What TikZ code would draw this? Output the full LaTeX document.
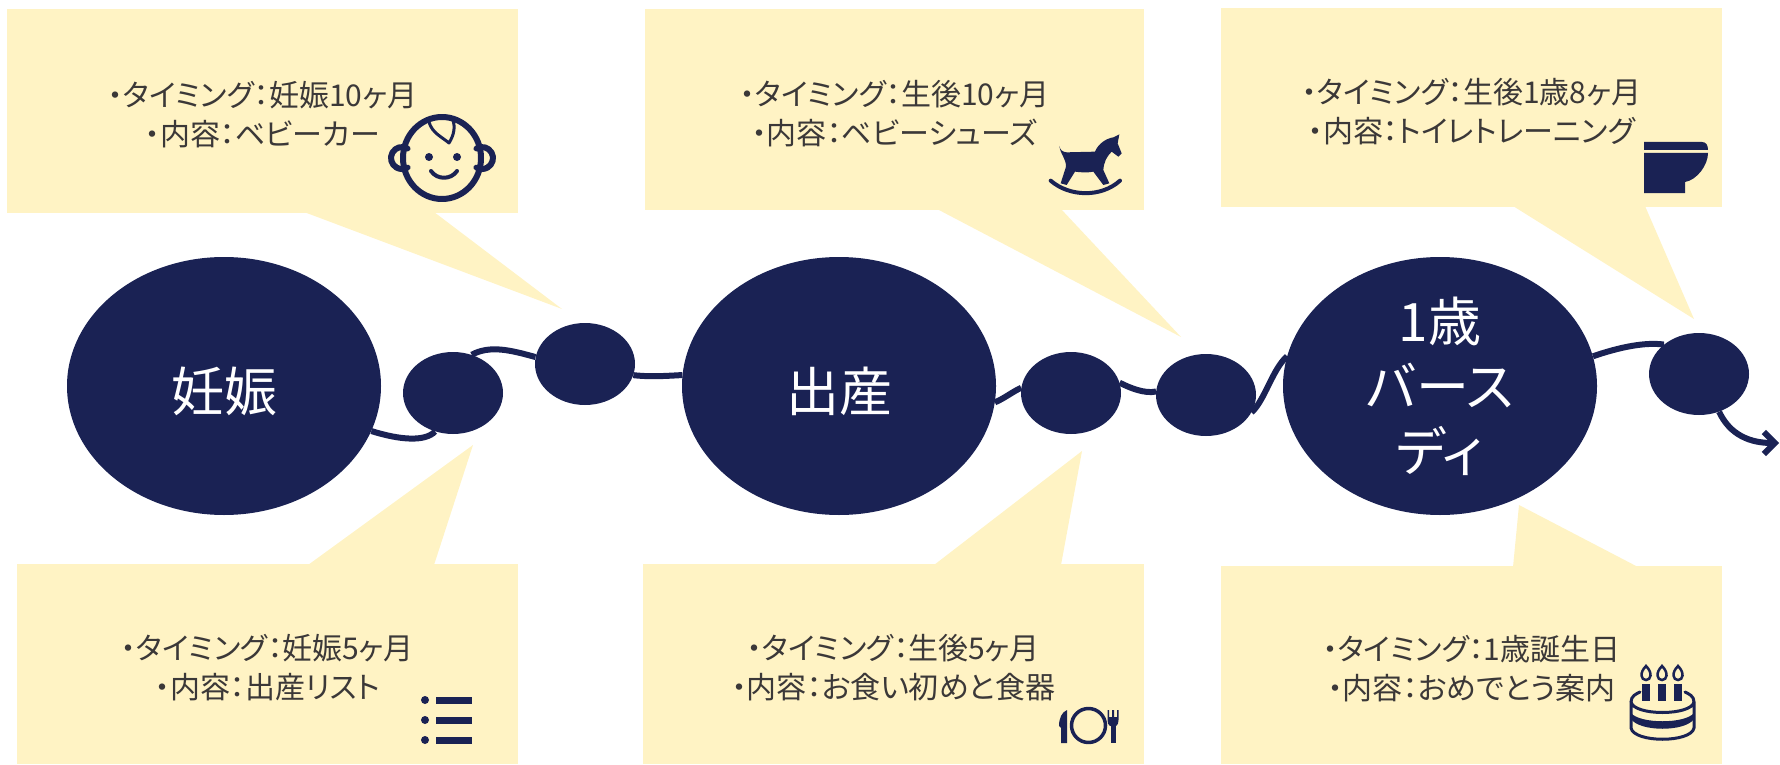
\documentclass[tikz,border=0pt]{standalone}
\usepackage{fontspec}
\setmainfont[RawFeature=+palt]{Noto Sans CJK JP}
\usetikzlibrary{shapes.geometric, arrows.meta}
\definecolor{navy}{HTML}{1A2254}
\definecolor{cream}{HTML}{FFF3C4}
\definecolor{memo}{HTML}{3B3838}
\newcommand{\memolines}[2]{\rule{0pt}{33pt}#1\\#2}
\tikzset{
  memobox/.style={rectangle, fill=cream, text=memo, inner sep=0pt, align=center,
    font=\fontsize{30}{39}\selectfont},
  stage/.style={ellipse, fill=navy, text=white, inner sep=0pt, align=center,
    minimum width=314pt, minimum height=258pt, font=\fontsize{53}{65}\selectfont,
    execute at begin node={\rule{0pt}{55pt}}},
  bead/.style={ellipse, fill=navy, inner sep=0pt, minimum width=100pt, minimum height=82pt},
  route/.style={draw=navy, line width=6pt},
  icon/.style={draw=navy, line width=6pt, line cap=round, line join=round},
  iconfill/.style={fill=navy}
}
\begin{document}
\begin{tikzpicture}[x=1pt,y=-1pt]
\useasboundingbox (0,0) rectangle (1780,765);

% pointers
\fill[cream] (304,212) -- (562,309) -- (434,212) -- cycle;
\fill[cream] (937,209) -- (1181,337) -- (1061,209) -- cycle;
\fill[cream] (1513,206) -- (1694,319) -- (1645,206) -- cycle;
\fill[cream] (308,565) -- (473,445) -- (434,565) -- cycle;
\fill[cream] (934,565) -- (1082,451) -- (1061,565) -- cycle;
\fill[cream] (1513,567) -- (1519,505) -- (1638,567) -- cycle;

% boxes
\node[memobox, minimum width=511pt, minimum height=204pt] (pregten) at (262.5,111) {\memolines{・タイミング：妊娠10ヶ月}{・内容：ベビーカー}};
\node[memobox, minimum width=499pt, minimum height=201pt] (birthten) at (894.5,109.5) {\memolines{・タイミング：生後10ヶ月}{・内容：ベビーシューズ}};
\node[memobox, minimum width=501pt, minimum height=199pt] (yeareight) at (1471.5,107.5) {\memolines{・タイミング：生後1歳8ヶ月}{・内容：トイレトレーニング}};
\node[memobox, minimum width=501pt, minimum height=200pt] (pregfive) at (267.5,664) {\memolines{・タイミング：妊娠5ヶ月}{・内容：出産リスト}};
\node[memobox, minimum width=501pt, minimum height=200pt] (birthfive) at (893.5,664) {\memolines{・タイミング：生後5ヶ月}{・内容：お食い初めと食器}};
\node[memobox, minimum width=501pt, minimum height=198pt] (yearone) at (1471.5,665) {\memolines{・タイミング：1歳誕生日}{・内容：おめでとう案内}};

% timeline
\node[stage] (preg) at (224,386) {妊娠};
\node[stage] (birth) at (839,386) {出産};
\node[stage] (party) at (1440,386) {1歳\\バース\\ディ};
\node[bead] (beada) at (453,393) {};
\node[bead] (beadb) at (585,364) {};
\node[bead] (beadc) at (1071,393) {};
\node[bead] (beadd) at (1206,395) {};
\node[bead] (beade) at (1699,374) {};
\coordinate (lineend) at (1779,443);

\draw[route] (preg.-17) .. controls (400,440) and (425,442) .. (beada.-115);
\draw[route] (beada.64) .. controls (490,345) and (510,350) .. (beadb.172);
\draw[route] (beadb.-13) .. controls (650,377) and (665,376) .. (birth.176);
\draw[route] (birth.-6) .. controls (1005,398) and (1012,392) .. (beadc.174);
\draw[route] (beadc.12) .. controls (1130,388) and (1145,394) .. (beadd.176);
\draw[route] (beadd.-21) .. controls (1265,400) and (1272,370) .. (party.169);
\draw[route] (party.11) .. controls (1620,347) and (1645,342) .. (beade.140);
\draw[route, -{Straight Barb[length=11pt,width=22pt]}] (beade.-62) .. controls (1730,435) and (1750,443) .. (lineend);

% baby
\draw[icon] (442,158) ellipse (39 and 41);
\draw[icon] (407.5,148.5) arc (-60:-300:11);
\draw[icon] (476.5,148.5) arc (-120:120:11);
\fill[iconfill] (429,157) circle (4) (457,157) circle (4);
\draw[icon, line width=4pt] (431,171) .. controls (437,180) and (451,180) .. (457,171);
\draw[icon, line width=3pt] (429,122) .. controls (432,133) and (442,137) .. (449,143) .. controls (454,135) and (456,126) .. (452,118);

% horse
\begin{scope}[shift={(1030,120)},scale=0.3333]
\fill[iconfill] (88,78) .. controls (90,90) and (98,96) .. (110,97) -- (195,95)
  .. controls (205,70) and (230,55) .. (250,52) -- (268,43) -- (263,70) -- (275,100) -- (265,110) -- (245,95)
  .. controls (230,110) and (222,125) .. (220,150) -- (238,190) -- (220,195) -- (190,155)
  .. controls (175,158) and (160,158) .. (135,155) -- (110,195) -- (92,190) -- (108,140)
  .. controls (108,115) and (92,105) .. cycle;
\draw[icon, line width=4pt] (62,182) .. controls (120,232) and (215,232) .. (270,182);
\end{scope}

% toilet
\fill[iconfill] (1644,142) -- (1702,142) .. controls (1706,142) and (1708,145) .. (1708,150) -- (1644,150) -- cycle;
\fill[iconfill] (1644,153) -- (1708,153) .. controls (1708,165) and (1697,180) .. (1685,182) -- (1685,193) -- (1644,193) -- cycle;

% list
\foreach \rowy in {700,720,740}{
  \fill[iconfill] (425,\rowy) circle (4);
  \fill[iconfill] (436,\rowy-3.5) rectangle (472,\rowy+3.5);
}

% plate
\fill[iconfill] (1067,710) -- (1067,743) -- (1061,743) -- (1061,728) -- (1059,726) .. controls (1059,718) and (1062,712) .. cycle;
\draw[icon, line width=3.5pt] (1088.5,725.5) ellipse (17 and 17);
\fill[iconfill] (1110.5,726) rectangle (1115.5,743);
\fill[iconfill] (1107.5,710) -- (1109,710) -- (1109,717) -- (1112,717) -- (1112,710) -- (1114,710) -- (1114,717) -- (1117,717) -- (1117,710) -- (1118.5,710) -- (1118.5,720) .. controls (1118.5,725) and (1116,727) .. (1113,727) .. controls (1110,727) and (1107.5,725) .. (1107.5,720) -- cycle;

% cake
\foreach \candlex in {1646,1662,1678}{
  \fill[iconfill] (\candlex-4,684) rectangle (\candlex+4,701);
  \draw[navy, line width=2.5pt] (\candlex,666) .. controls (\candlex+7,673) and (\candlex+5,680) .. (\candlex,680) .. controls (\candlex-5,680) and (\candlex-7,673) .. cycle;
}
\draw[icon, line width=3pt] (1631,702) .. controls (1631,696) and (1636,694) .. (1640,692);
\draw[icon, line width=3pt] (1694,702) .. controls (1694,696) and (1689,694) .. (1685,692);
\draw[icon, line width=3pt] (1631,702) .. controls (1634,716) and (1691,716) .. (1694,702) -- (1694,728) .. controls (1691,743) and (1634,743) .. (1631,728) -- cycle;
\fill[iconfill] (1631,713) .. controls (1640,724) and (1685,724) .. (1694,713) -- (1694,719) .. controls (1685,732) and (1640,732) .. (1631,719) -- cycle;
\end{tikzpicture}
\end{document}
